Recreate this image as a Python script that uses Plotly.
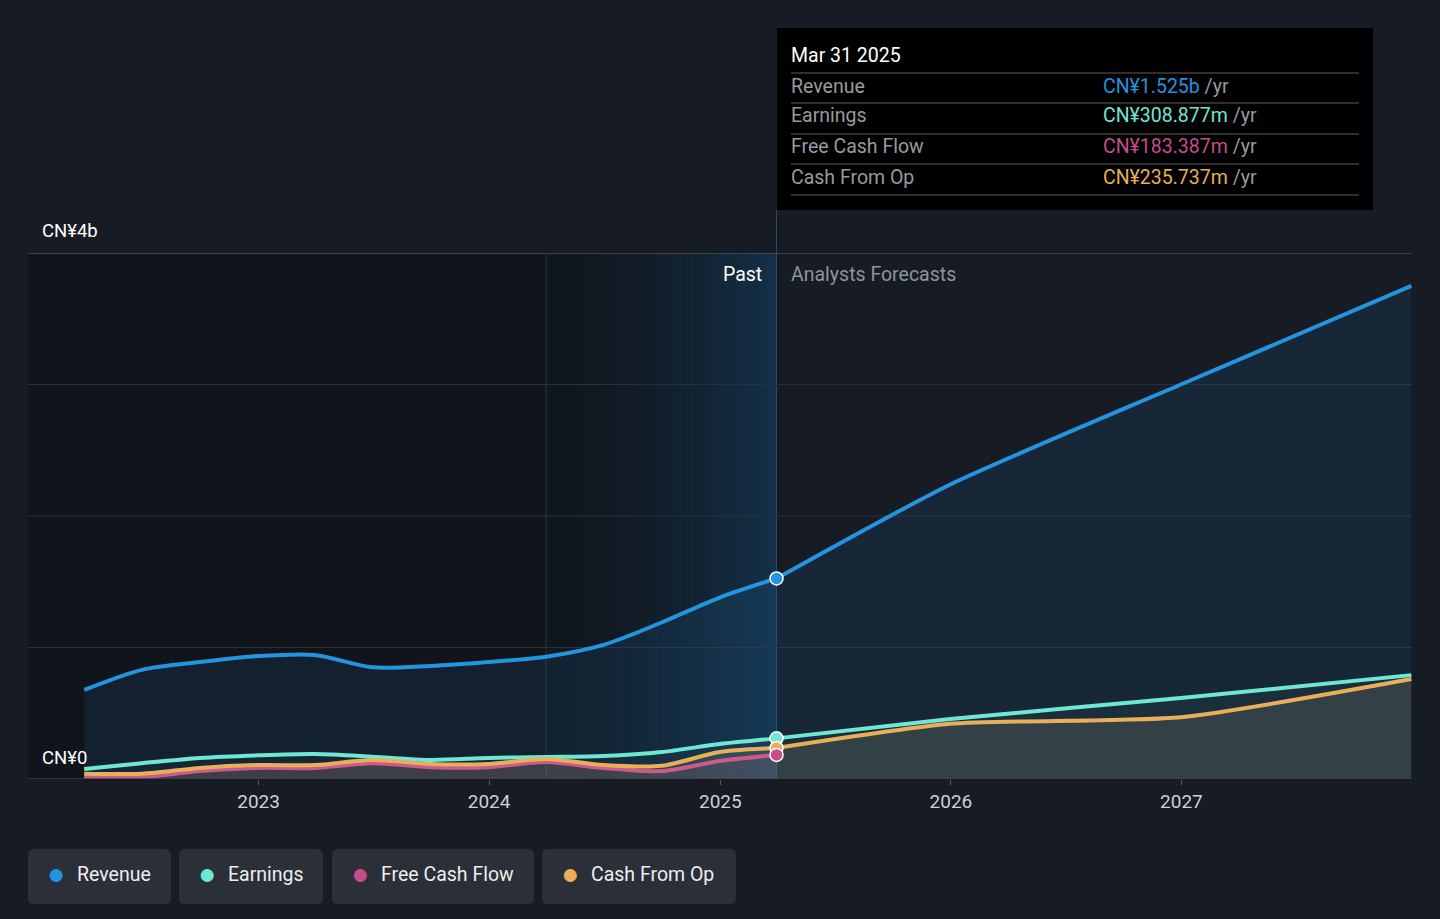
import plotly.graph_objects as go
import datetime as dt

# quarterly history (CN¥ b, trailing twelve months)
past_dates = ["2022-03-31", "2022-06-30", "2022-09-30", "2022-12-31",
              "2023-03-31", "2023-06-30", "2023-09-30", "2023-12-31",
              "2024-03-31", "2024-06-30", "2024-09-30", "2024-12-31",
              "2025-03-31"]
revenue_past = [0.677, 0.83, 0.89, 0.935, 0.943, 0.85, 0.86, 0.89, 0.93, 1.02, 1.19, 1.38, 1.525]
earnings_past = [0.076, 0.12, 0.16, 0.18, 0.19, 0.17, 0.145, 0.16, 0.167, 0.175, 0.205, 0.266, 0.309]
fcf_past = [0.015, 0.015, 0.06, 0.084, 0.084, 0.12, 0.09, 0.09, 0.13, 0.084, 0.06, 0.137, 0.183]
cfo_past = [0.04, 0.04, 0.084, 0.106, 0.106, 0.145, 0.114, 0.114, 0.152, 0.106, 0.1, 0.205, 0.236]

# analyst forecasts
fc_dates = ["2025-03-31", "2025-12-31", "2026-12-31", "2027-12-31"]
revenue_fc = [1.525, 2.24, 3.0, 3.75]
earnings_fc = [0.309, 0.456, 0.616, 0.79]
cfo_fc = [0.236, 0.42, 0.47, 0.76]

names = ["Revenue", "Earnings", "Free Cash Flow", "Cash From Op"]
colors = ["#2394df", "#6ee7d3", "#c54d8a", "#e8ae5a"]
tip_values = ["CN¥1.525b", "CN¥308.877m", "CN¥183.387m", "CN¥235.737m"]
x_ticks = ["2023-01-01", "2024-01-01", "2025-01-01", "2026-01-01", "2027-01-01"]
x_labels = ["2023", "2024", "2025", "2026", "2027"]

BG = "#161b24"
W, H = 1440, 919
L, R, T, B = 28, 1412, 253, 779
FS = 19.5


def px(x):
    return (x - L) / (R - L)


def py(y):
    return (B - y) / (B - T)


def label(x, y, text, color, size=FS, anchor="left"):
    return dict(x=px(x), y=py(y), xref="paper", yref="paper", text=text,
                showarrow=False, xanchor=anchor, yanchor="middle", borderpad=0, borderwidth=0,
                font=dict(color=color, size=size))


fig = go.Figure()

fills = ["rgba(35,148,223,0.10)", "rgba(110,231,211,0.04)",
         "rgba(197,77,138,0.10)", "rgba(235,205,150,0.12)"]
past_vals = [revenue_past, earnings_past, fcf_past, cfo_past]
fc_vals = [revenue_fc, earnings_fc, None, cfo_fc]

for i in range(4):
    fig.add_trace(go.Scatter(x=past_dates, y=past_vals[i], mode="lines",
                             line=dict(color=colors[i], width=4, shape="spline", smoothing=0.8),
                             fill="tozeroy", fillcolor=fills[i], name=names[i],
                             hoverinfo="skip"))
for i in range(4):
    if fc_vals[i] is None:
        continue
    fig.add_trace(go.Scatter(x=fc_dates, y=fc_vals[i], mode="lines",
                             line=dict(color=colors[i], width=4, shape="spline", smoothing=0.6),
                             fill="tozeroy", fillcolor=fills[i], name=names[i] + " forecast",
                             hoverinfo="skip"))
# markers at the last reported date
for i in [0, 1, 3, 2]:
    fig.add_trace(go.Scatter(x=[past_dates[-1]], y=[past_vals[i][-1]], mode="markers",
                             marker=dict(color=colors[i], size=13, line=dict(color="white", width=1.5)),
                             hoverinfo="skip", showlegend=False))

shapes = []
# darker past area
shapes.append(dict(type="rect", xref="x", yref="paper", x0="2022-01-01", x1="2024-03-31",
                   y0=0, y1=1, fillcolor="#10141b", line_width=0, layer="below"))
# highlight gradient for last year
n = 40
d0 = dt.date(2024, 3, 31)
d1 = dt.date(2025, 3, 31)
span = (d1 - d0).days
c0 = (17, 23, 31)
c1 = (20, 48, 72)
for k in range(n):
    t = (k / (n - 1)) ** 1.6
    c = tuple(int(c0[j] + (c1[j] - c0[j]) * t) for j in range(3))
    xa = d0 + dt.timedelta(days=span * k / n)
    xb = d0 + dt.timedelta(days=span * (k + 1) / n + 0.5)
    shapes.append(dict(type="rect", xref="x", yref="paper", x0=str(xa), x1=str(xb),
                       y0=0, y1=1, fillcolor="rgb(%d,%d,%d)" % c, line_width=0, layer="below"))
shapes.append(dict(type="line", xref="x", yref="paper", x0="2024-03-31", x1="2024-03-31",
                   y0=0, y1=1, line=dict(color="#23384a", width=1), layer="below"))
shapes.append(dict(type="line", xref="x", yref="paper", x0="2025-03-31", x1="2025-03-31",
                   y0=0, y1=py(210), line=dict(color="#2a4d6b", width=1), layer="below"))
# grid lines
for v in [1, 2, 3]:
    shapes.append(dict(type="line", xref="paper", yref="y", x0=0, x1=1, y0=v, y1=v,
                       line=dict(color="#2a303a", width=1), layer="below"))
shapes.append(dict(type="line", xref="paper", yref="y", x0=0, x1=1, y0=4, y1=4,
                   line=dict(color="#4a5058", width=1.5), layer="below"))
shapes.append(dict(type="line", xref="paper", yref="y", x0=0, x1=1, y0=0, y1=0,
                   line=dict(color="#3c424b", width=1.5), layer="above"))

annotations = [
    label(42, 231, "CN¥4b", "#ffffff", 18.5),
    label(42, 758, "CN¥0", "#ffffff", 18.5),
    label(762, 274, "Past", "#ffffff", anchor="right"),
    label(791, 274, "Analysts Forecasts", "#8e949c"),
]

# tooltip box
shapes.append(dict(type="rect", xref="paper", yref="paper", x0=px(777), x1=px(1373),
                   y0=py(210), y1=py(28), fillcolor="#000000", line_width=0, layer="above"))
annotations.append(label(791, 55, "Mar 31 2025", "#ffffff"))
row_y = [86, 116, 147, 177]
for y in [73, 103, 134, 164, 195]:
    shapes.append(dict(type="line", xref="paper", yref="paper", x0=px(791), x1=px(1359),
                       y0=py(y), y1=py(y), line=dict(color="#3f3f3f", width=1.5), layer="above"))
for i in range(4):
    annotations.append(label(791, row_y[i], names[i], "#9a9a9a"))
    annotations.append(label(1103, row_y[i],
                             "<span style='color:%s'>%s</span> /yr" % (colors[i], tip_values[i]),
                             "#9a9a9a"))

# legend chips
chips = [(28, 171), (179, 323), (332, 534), (542, 736)]
for i, (a, b) in enumerate(chips):
    r = 6
    y0, y1 = 849, 904
    pts = [(a + r, y0), (b - r, y0), (b, y0), (b, y0 + r), (b, y1 - r), (b, y1), (b - r, y1),
           (a + r, y1), (a, y1), (a, y1 - r), (a, y0 + r), (a, y0), (a + r, y0)]
    p = ["%f,%f" % (px(x), py(y)) for x, y in pts]
    path = ("M %s L %s Q %s %s L %s Q %s %s L %s Q %s %s L %s Q %s %s Z" % tuple(p))
    shapes.append(dict(type="path", xref="paper", yref="paper", path=path,
                       fillcolor="#2a2f38", line_width=0, layer="above"))
    annotations.append(label(a + 28, 873, "●", colors[i], 30, anchor="center"))
    annotations.append(label(a + 49, 874, names[i], "#eeeeee"))

fig.update_layout(
    width=W, height=H,
    margin=dict(l=L, r=W - R, t=T, b=H - B),
    paper_bgcolor=BG, plot_bgcolor=BG,
    font=dict(family="Roboto, sans-serif"),
    showlegend=False,
    shapes=shapes, annotations=annotations,
    xaxis=dict(range=["2022-01-01", "2028-01-01"], tickvals=x_ticks, ticktext=x_labels,
               showgrid=False, zeroline=False, ticks="outside", ticklen=5, tickcolor="#555a62",
               tickfont=dict(color="#d0d0d0", size=19), fixedrange=True),
    yaxis=dict(range=[0, 4], showgrid=False, zeroline=False, showticklabels=False, fixedrange=True),
)

fig.write_html("out.html", config={"displayModeBar": False},
               post_script="document.body.style.margin='0';document.body.style.background='%s';" % BG)
